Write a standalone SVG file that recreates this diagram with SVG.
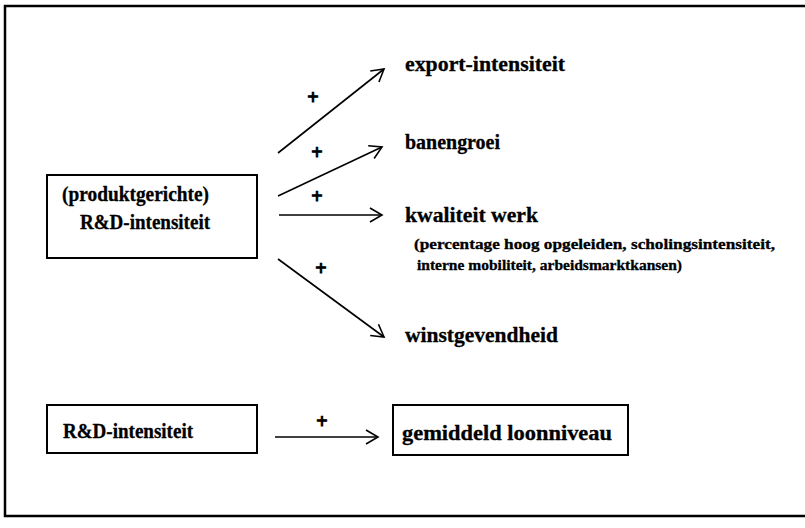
<svg xmlns="http://www.w3.org/2000/svg" width="805" height="528" viewBox="0 0 805 528">
<defs>
<style>
text{font-family:"Liberation Serif","Times New Roman",serif;font-weight:bold;fill:#000;stroke:#000;stroke-width:0.3}
.t{font-size:20px}
.s{font-size:15px}
.p{font-size:20px;stroke-width:1}
.box{fill:#fff;stroke:#000;stroke-width:2}
.c{stroke:#000;stroke-width:1.6;fill:none}
</style>
<marker id="ah" markerWidth="16" markerHeight="16" refX="13" refY="8" orient="auto" markerUnits="userSpaceOnUse">
<path d="M1,1 L13,8 L1,15" fill="none" stroke="#000" stroke-width="1.6"/>
</marker>
</defs>
<rect width="805" height="528" fill="#fff"/>
<g id="frame">
<path d="M805,6 H5 V516 H805" fill="none" stroke="#000" stroke-width="2.5"/>
</g>
<g id="node-rd1">
<rect class="box" x="47" y="175" width="210" height="83"/>
<text class="t" x="62" y="201" textLength="147" lengthAdjust="spacingAndGlyphs">(produktgerichte)</text>
<text class="t" x="80" y="229" textLength="130" lengthAdjust="spacingAndGlyphs">R&amp;D-intensiteit</text>
</g>
<g id="node-export"><text class="t" x="405" y="71" textLength="160" lengthAdjust="spacingAndGlyphs">export-intensiteit</text></g>
<g id="node-banengroei"><text class="t" x="405" y="149" textLength="95" lengthAdjust="spacingAndGlyphs">banengroei</text></g>
<g id="node-kwaliteit">
<text class="t" x="405" y="222" textLength="133" lengthAdjust="spacingAndGlyphs">kwaliteit werk</text>
<text class="s" x="414" y="249" textLength="361" lengthAdjust="spacingAndGlyphs">(percentage hoog opgeleiden, scholingsintensiteit,</text>
<text class="s" x="417" y="270" textLength="265" lengthAdjust="spacingAndGlyphs">interne mobiliteit, arbeidsmarktkansen)</text>
</g>
<g id="node-winst"><text class="t" x="405" y="342" textLength="153" lengthAdjust="spacingAndGlyphs">winstgevendheid</text></g>
<g id="node-rd2">
<rect class="box" x="47" y="405" width="210" height="48"/>
<text class="t" x="63" y="438" textLength="130" lengthAdjust="spacingAndGlyphs">R&amp;D-intensiteit</text>
</g>
<g id="node-loon">
<rect class="box" x="393" y="405" width="235" height="50"/>
<text class="t" x="402" y="440" textLength="210" lengthAdjust="spacingAndGlyphs">gemiddeld loonniveau</text>
</g>
<g id="connectors">
<line class="c" x1="278" y1="153" x2="384" y2="69" marker-end="url(#ah)"/>
<line class="c" x1="278" y1="196" x2="382" y2="147" marker-end="url(#ah)"/>
<line class="c" x1="279" y1="215" x2="382" y2="215" marker-end="url(#ah)"/>
<line class="c" x1="278" y1="259" x2="384" y2="337" marker-end="url(#ah)"/>
<line class="c" x1="275" y1="437" x2="378" y2="437" marker-end="url(#ah)"/>
<text class="p" x="313" y="104" text-anchor="middle">+</text>
<text class="p" x="317" y="159" text-anchor="middle">+</text>
<text class="p" x="317" y="203" text-anchor="middle">+</text>
<text class="p" x="321" y="275" text-anchor="middle">+</text>
<text class="p" x="322" y="428" text-anchor="middle">+</text>
</g>
</svg>
